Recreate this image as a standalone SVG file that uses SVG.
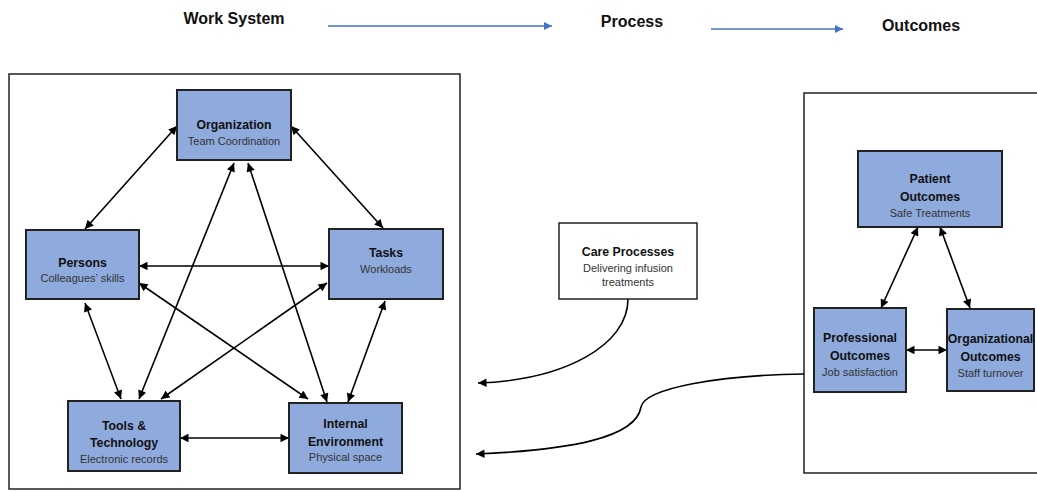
<svg xmlns="http://www.w3.org/2000/svg" width="1037" height="491" viewBox="0 0 1037 491">
<style>
.frame{fill:#fff;stroke:#222;stroke-width:1.5}
.node{fill:#8faadc;stroke:#222;stroke-width:2}
.wnode{fill:#fff;stroke:#222;stroke-width:1.5}
.t{font-family:"Liberation Sans",Arial,sans-serif;font-size:12.3px;font-weight:bold;fill:#111;text-anchor:middle}
.s{font-family:"Liberation Sans",Arial,sans-serif;font-size:11px;fill:#333;text-anchor:middle}
.h{font-family:"Liberation Sans",Arial,sans-serif;font-size:16px;font-weight:bold;fill:#111;text-anchor:middle}
.c{fill:none;stroke:#000;stroke-width:1.6;marker-start:url(#ah);marker-end:url(#ah)}
.c1{fill:none;stroke:#000;stroke-width:1.6;marker-end:url(#ah)}
.b{fill:none;stroke:#4472c4;stroke-width:1.5;marker-end:url(#bh)}
</style>
<defs>
<marker id="ah" viewBox="0 0 10 10" refX="10" refY="5" markerWidth="9.5" markerHeight="8.5" orient="auto-start-reverse" markerUnits="userSpaceOnUse"><path d="M0,0 L10,5 L0,10 z" fill="#000"/></marker>
<marker id="bh" viewBox="0 0 10 10" refX="10" refY="5" markerWidth="10" markerHeight="8" orient="auto" markerUnits="userSpaceOnUse"><path d="M0,0 L10,5 L0,10 z" fill="#4472c4"/></marker>
</defs>
<rect width="1037" height="491" fill="#fff"/>
<g id="header">
<text class="h" x="234" y="24">Work System</text>
<text class="h" x="632" y="27">Process</text>
<text class="h" x="921" y="31">Outcomes</text>
</g>
<g id="frames">
<rect class="frame" x="9" y="74" width="451" height="415"/>
<rect class="frame" x="804" y="93" width="250" height="380"/>
</g>
<g id="connectors">
<path class="b" d="M328,26 H552"/>
<path class="b" d="M711,29 H843"/>
<path class="c" d="M177,126 L85,229"/>
<path class="c" d="M291,126 L383,228"/>
<path class="c" d="M139,266 L329,266"/>
<path class="c" d="M234,163 L139,399"/>
<path class="c" d="M248,163 L327,402"/>
<path class="c" d="M139,283 L308,399"/>
<path class="c" d="M327,283 L161,399"/>
<path class="c" d="M85,303 L121,399"/>
<path class="c" d="M385,301 L348,402"/>
<path class="c" d="M180,438 L289,438"/>
<path class="c" d="M918,227 L881,308"/>
<path class="c" d="M940,227 L970,308"/>
<path class="c" d="M906,350 L947,350"/>
<path class="c1" d="M628,299 C628,345 565,380 478,383"/>
<path class="c1" d="M804,374 C720,375 645,388 641,407 C636,438 570,450 476,454"/>
</g>
<g id="organization">
<rect class="node" x="177" y="90" width="114" height="70"/>
<text class="t" x="234" y="129">Organization</text>
<text class="s" x="234" y="145">Team Coordination</text>
</g>
<g id="persons">
<rect class="node" x="26" y="230" width="113" height="69"/>
<text class="t" x="82.5" y="267">Persons</text>
<text class="s" x="82.5" y="282">Colleagues’ skills</text>
</g>
<g id="tasks">
<rect class="node" x="329" y="229" width="114" height="70"/>
<text class="t" x="386" y="257">Tasks</text>
<text class="s" x="386" y="273">Workloads</text>
</g>
<g id="tools">
<rect class="node" x="68" y="401" width="112" height="70"/>
<text class="t" x="124" y="430">Tools &amp;</text>
<text class="t" x="124" y="447">Technology</text>
<text class="s" x="124" y="463">Electronic records</text>
</g>
<g id="internal-environment">
<rect class="node" x="289" y="403" width="113" height="70"/>
<text class="t" x="345.5" y="428">Internal</text>
<text class="t" x="345.5" y="446">Environment</text>
<text class="s" x="345.5" y="461">Physical space</text>
</g>
<g id="care-processes">
<rect class="wnode" x="559" y="223" width="138" height="76"/>
<text class="t" x="628" y="256">Care Processes</text>
<text class="s" x="628" y="272">Delivering infusion</text>
<text class="s" x="628" y="286">treatments</text>
</g>
<g id="patient-outcomes">
<rect class="node" x="858" y="151" width="144" height="76"/>
<text class="t" x="930" y="183">Patient</text>
<text class="t" x="930" y="201">Outcomes</text>
<text class="s" x="930" y="217">Safe Treatments</text>
</g>
<g id="professional-outcomes">
<rect class="node" x="814" y="308" width="92" height="84"/>
<text class="t" x="860" y="342">Professional</text>
<text class="t" x="860" y="360">Outcomes</text>
<text class="s" x="860" y="376">Job satisfaction</text>
</g>
<g id="organizational-outcomes">
<rect class="node" x="947" y="309" width="87" height="82"/>
<text class="t" x="990.5" y="343">Organizational</text>
<text class="t" x="990.5" y="361">Outcomes</text>
<text class="s" x="990.5" y="377">Staff turnover</text>
</g>
</svg>
